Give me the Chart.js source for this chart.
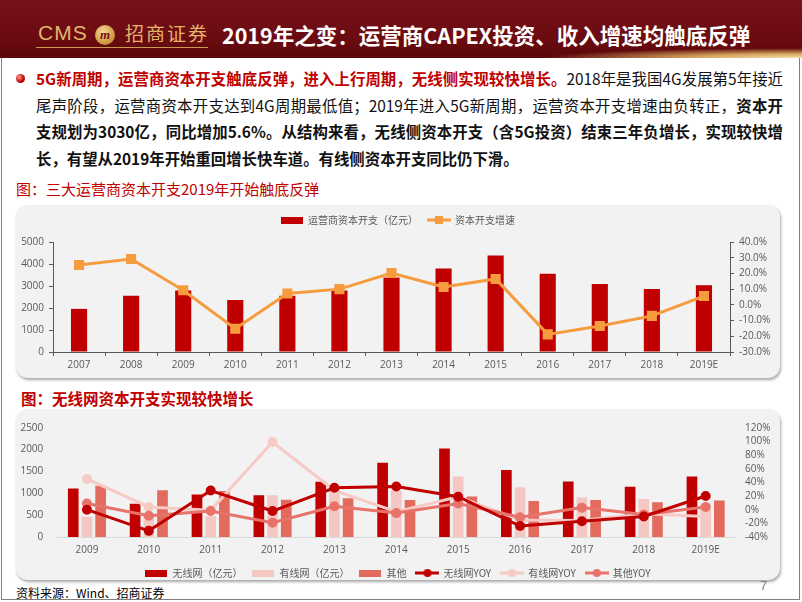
<!DOCTYPE html>
<html>
<head>
<meta charset="utf-8">
<title>2019年之变</title>
<script src="https://cdn.jsdelivr.net/npm/chart.js@4.4.1/dist/chart.umd.min.js"></script>
<style>
  html, body { margin: 0; padding: 0; background: #fff; }
  body { width: 802px; height: 602px; position: relative; overflow: hidden;
         font-family: "Noto Sans CJK SC", "Noto Sans", sans-serif; }
  .frame { position: absolute; left: 1px; top: 0; width: 799px; height: 600px;
           border: 1px solid #7f7f7f; box-sizing: border-box; }
  #header { position: absolute; left: 0; top: 0; width: 802px; height: 58px;
            background: linear-gradient(180deg, #76111a 0%, #6a0b10 70%, #5a070b 100%); }
  #header .glow { position: absolute; right: 0; bottom: 0; width: 260px; height: 10px;
            background: radial-gradient(ellipse at 100% 100%, #f6e2ac 0%, #d4a35c 30%, rgba(106,11,16,0) 70%); }
  .cms { position: absolute; left: 38px; top: 21px; font: 21px "Liberation Sans", sans-serif;
         color: #e2b46b; letter-spacing: 1px; }
  .emblem { position: absolute; left: 95px; top: 25px; width: 20px; height: 20px; border-radius: 50%;
            background: radial-gradient(circle at 40% 35%, #f7d894, #c68c36 75%);
            color: #7a1010; font: italic bold 13px/20px "Liberation Serif", serif; text-align: center; }
  .cn { position: absolute; left: 125px; top: 21px; font-size: 19px; line-height: 24px;
        color: #e2b46b; letter-spacing: 2px; }
  .uline { position: absolute; left: 36px; top: 47px; width: 172px; height: 1px; background: #c99a50; }
  .title { position: absolute; left: 222px; top: 22px; font-size: 21.5px; line-height: 26px; font-weight: bold;
           color: #fff; white-space: nowrap; }
  .bullet { position: absolute; left: 16px; top: 74px; width: 9px; height: 9px; border-radius: 50%;
            background: radial-gradient(circle at 35% 35%, #ff9a90, #c00000 60%, #7a0000); }
  .para { position: absolute; left: 36px; top: 65px; width: 747px; font-size: 15.4px; color: #111; }
  .para div { height: 26.5px; line-height: 26.5px; white-space: nowrap; text-align: justify; text-align-last: justify; }
  .para div.last { text-align-last: left; }
  .para .red { color: #c00000; font-weight: bold; }
  .para b { font-weight: bold; }
  .ctitle1 { position: absolute; left: 16px; top: 180px; font-size: 15px; line-height: 18px; color: #c00000; white-space: nowrap; }
  .ctitle2 { position: absolute; left: 21px; top: 389px; font-size: 15.5px; line-height: 18px; color: #c00000;
             font-weight: bold; white-space: nowrap; }
  .panel { position: absolute; left: 16px; width: 764px; background: #f2f2f2; border-radius: 12px;
           box-shadow: 1px 2px 3px rgba(0,0,0,0.35); }
  .panel canvas { position: absolute; left: 0; top: 0; }
  .source { position: absolute; left: 16px; top: 585px; font-size: 12px; line-height: 16px; color: #000; }
  .page { position: absolute; left: 760px; top: 578px; font: 13px "Liberation Sans", sans-serif; color: #7f7f7f; }
</style>
</head>
<body>
<div class="frame"></div>
<div id="header">
  <div class="glow"></div>
  <div class="cms">CMS</div>
  <div class="emblem">m</div>
  <div class="cn">招商证券</div>
  <div class="uline"></div>
  <div class="title">2019年之变：运营商CAPEX投资、收入增速均触底反弹</div>
</div>

<div class="bullet"></div>
<div class="para">
  <div><span class="red">5G新周期，运营商资本开支触底反弹，进入上行周期，无线侧实现较快增长。</span>2018年是我国4G发展第5年接近</div>
  <div>尾声阶段，运营商资本开支达到4G周期最低值；2019年进入5G新周期，运营资本开支增速由负转正，<b>资本开</b></div>
  <div><b>支规划为3030亿，同比增加5.6%。从结构来看，无线侧资本开支（含5G投资）结束三年负增长，实现较快增</b></div>
  <div class="last"><b>长，有望从2019年开始重回增长快车道。有线侧资本开支同比仍下滑。</b></div>
</div>

<div class="ctitle1">图：三大运营商资本开支2019年开始触底反弹</div>
<div class="panel" style="top:205px;height:173px;"><canvas id="capexChart" width="764" height="173"></canvas></div>

<div class="ctitle2">图：无线网资本开支实现较快增长</div>
<div class="panel" style="top:409px;height:171px;"><canvas id="splitChart" width="764" height="171"></canvas></div>

<div class="source">资料来源：Wind、招商证券</div>
<div class="page">7</div>

<script>
// chart 1: total capex of the three operators
const years1 = ['2007', '2008', '2009', '2010', '2011', '2012', '2013', '2014', '2015', '2016', '2017', '2018', '2019E'];
const capex = [1960, 2560, 2790, 2360, 2560, 2790, 3390, 3790, 4390, 3560, 3090, 2860, 3030];
const capexGrowth = [25.4, 29.2, 9.3, -15.2, 7.2, 10.0, 20.3, 11.4, 16.5, -18.8, -13.5, -7.0, 5.6];

// chart 2: wireless / wired / other
const years2 = ['2009', '2010', '2011', '2012', '2013', '2014', '2015', '2016', '2017', '2018', '2019E'];
const wirelessCapex = [1110, 760, 970, 956, 1261, 1696, 2022, 1535, 1267, 1152, 1383];
const wiredCapex = [463, 480, 475, 956, 1060, 1065, 1383, 1137, 905, 870, 774];
const otherCapex = [1174, 1072, 1050, 854, 885, 848, 926, 826, 848, 796, 833];
const wirelessYoy = [0, -31, 28, -2, 32, 34, 19, -24, -17, -10, 20];
const wiredYoy = [45, 4, -1, 99, 28, -3, 19, -15, -16, -6, -10];
const otherYoy = [9, -9, -2, -19, 5, -5, 9, -11, 3, -7, 4];

Chart.defaults.font.family = '"Open Sans", "Noto Sans CJK SC", sans-serif';
Chart.defaults.font.size = 10;
Chart.defaults.color = '#595959';

function barIcon(color) {
  const c = document.createElement('canvas');
  c.width = 22; c.height = 7;
  const g = c.getContext('2d');
  g.fillStyle = color;
  g.fillRect(0, 0, 22, 7);
  return c;
}

function lineIcon(color, marker) {
  const c = document.createElement('canvas');
  c.width = 24; c.height = 10;
  const g = c.getContext('2d');
  g.strokeStyle = color;
  g.lineWidth = 3;
  g.beginPath(); g.moveTo(0, 5); g.lineTo(24, 5); g.stroke();
  g.fillStyle = color;
  if (marker === 'rect') {
    g.fillRect(8, 1, 8, 8);
  } else {
    g.beginPath(); g.arc(12, 5, 4, 0, Math.PI * 2); g.fill();
  }
  return c;
}

function iconLegend(icons, padding, position) {
  return {
    position: position,
    labels: {
      usePointStyle: true,
      pointStyleWidth: 22,
      padding: padding,
      color: '#595959',
      font: { family: '"Noto Sans CJK SC", sans-serif', size: 10 },
      generateLabels: (chart) => chart.data.datasets.map((ds, i) => ({
        text: ds.label,
        pointStyle: icons[i],
        fillStyle: 'transparent',
        strokeStyle: 'transparent',
        lineWidth: 0,
        hidden: false,
        datasetIndex: i,
        fontColor: '#595959'
      }))
    }
  };
}

const orange = '#F79B3F';
const darkRed = '#C00000';
const pink = '#F4C7C3';
const salmon = '#E26B5E';

new Chart(document.getElementById('capexChart'), {
  type: 'bar',
  data: {
    labels: years1,
    datasets: [
      {
        label: '运营商资本开支（亿元）',
        data: capex,
        backgroundColor: darkRed,
        yAxisID: 'y',
        order: 1,
        barPercentage: 0.31,
        categoryPercentage: 1
      },
      {
        type: 'line',
        label: '资本开支增速',
        data: capexGrowth,
        borderColor: orange,
        backgroundColor: orange,
        borderWidth: 3,
        pointStyle: 'rect',
        pointRadius: 5,
        tension: 0,
        yAxisID: 'y1',
        order: 0
      }
    ]
  },
  options: {
    responsive: false,
    animation: false,
    layout: { padding: 0 },
    plugins: {
      legend: iconLegend([barIcon(darkRed), lineIcon(orange, 'rect')], 10, 'top'),
      subtitle: { display: true, text: '', weight: 500, padding: 0, font: { size: 7, lineHeight: 1 } },
      tooltip: { enabled: false }
    },
    scales: {
      x: {
        grid: { drawOnChartArea: false, tickLength: 4, color: '#595959' },
        border: { color: '#595959' },
        ticks: { padding: 3 },
        afterFit: (s) => { s.height = 26; }
      },
      y: {
        position: 'left', min: 0, max: 5000,
        ticks: { stepSize: 1000, padding: 5, autoSkip: false, callback: (v) => String(v) },
        grid: { drawOnChartArea: false, tickLength: 4, color: '#595959' },
        border: { color: '#595959' },
        afterFit: (s) => { s.width = 37; }
      },
      y1: {
        position: 'right', min: -30, max: 40,
        ticks: { stepSize: 10, padding: 5, autoSkip: false, callback: (v) => v.toFixed(1) + '%' },
        grid: { drawOnChartArea: false, tickLength: 4, color: '#595959' },
        border: { color: '#595959' },
        afterFit: (s) => { s.width = 50; }
      }
    }
  }
});

function yoyLine(label, data, color, order) {
  return {
    type: 'line', label: label, data: data,
    borderColor: color, backgroundColor: color, borderWidth: 3,
    pointRadius: 3.5, pointStyle: 'circle', tension: 0,
    yAxisID: 'y1', order: order
  };
}

new Chart(document.getElementById('splitChart'), {
  type: 'bar',
  data: {
    labels: years2,
    datasets: [
      { label: '无线网（亿元）', data: wirelessCapex, backgroundColor: darkRed, order: 10 },
      { label: '有线网（亿元）', data: wiredCapex, backgroundColor: pink, order: 10 },
      { label: '其他', data: otherCapex, backgroundColor: salmon, order: 10 },
      yoyLine('无线网YOY', wirelessYoy, darkRed, 1),
      yoyLine('有线网YOY', wiredYoy, '#F6CAC5', 3),
      yoyLine('其他YOY', otherYoy, '#E8736A', 2)
    ]
  },
  options: {
    responsive: false,
    animation: false,
    datasets: { bar: { categoryPercentage: 0.664, barPercentage: 0.78, yAxisID: 'y' } },
    layout: { padding: { top: 13.3, bottom: -8, left: 0, right: 0 } },
    plugins: {
      legend: iconLegend([
        barIcon(darkRed), barIcon(pink), barIcon(salmon),
        lineIcon(darkRed, 'circle'), lineIcon('#F6CAC5', 'circle'), lineIcon('#E8736A', 'circle')
      ], 10, 'bottom'),
      tooltip: { enabled: false }
    },
    scales: {
      x: {
        grid: { drawOnChartArea: false, drawTicks: false, color: 'rgba(0,0,0,0)' },
        border: { color: '#D9D9D9' },
        ticks: { padding: 7.4 },
        afterFit: (s) => { s.height = 21; }
      },
      y: {
        position: 'left', min: 0, max: 2500,
        ticks: { stepSize: 500, padding: 12.7, autoSkip: false, callback: (v) => String(v) },
        grid: { display: false, drawTicks: false },
        border: { display: false },
        afterFit: (s) => { s.width = 40; }
      },
      y1: {
        position: 'right', min: -40, max: 120,
        ticks: { stepSize: 20, padding: 8.4, autoSkip: false, callback: (v) => v + '%' },
        grid: { display: false, drawTicks: false },
        border: { display: false },
        afterFit: (s) => { s.width = 43.4; }
      }
    }
  }
});
</script>
</body>
</html>
